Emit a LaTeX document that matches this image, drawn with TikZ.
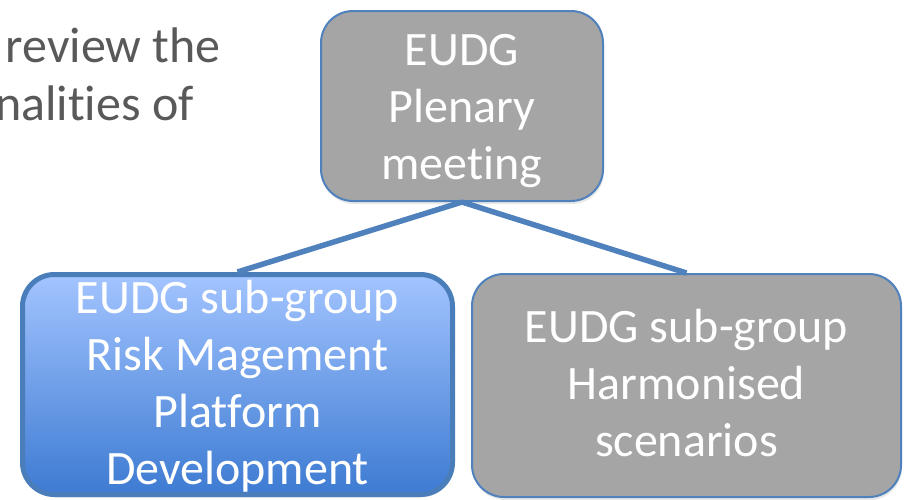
\documentclass[tikz,border=0pt]{standalone}
\usepackage{fontspec}
\setmainfont{Carlito}[Ligatures=NoCommon]
\usetikzlibrary{shadows}
\definecolor{boxgray}{HTML}{A5A5A5}
\definecolor{accent}{HTML}{4F81BD}
\definecolor{accentdark}{HTML}{4A7EBB}
\definecolor{bodytext}{HTML}{595959}
\definecolor{bluetop}{HTML}{A3C4FF}
\definecolor{bluemid}{HTML}{7FA9EE}
\definecolor{bluebot}{HTML}{3D7BD2}
\begin{document}
\begin{tikzpicture}[x=1pt,y=-1pt,
  box/.style={rectangle, rounded corners=32pt, draw=accent, line width=2pt,
    fill=boxgray, inner sep=0pt,
    drop shadow={shadow xshift=1pt, shadow yshift=-3pt, opacity=0.18}},
  bluebox/.style={box, draw=accentdark, line width=5pt,
    top color=bluetop, middle color=bluemid, bottom color=bluebot},
  txt/.style={align=center, text=white, inner sep=0pt,
    font=\fontsize{48}{57}\selectfont},
  bodytxt/.style={text=bodytext, inner sep=0pt,
    font=\fontsize{50}{58}\selectfont},
  conn/.style={draw=accent, line width=5.5pt}
]
\useasboundingbox (0,0) rectangle (905,499);
\fill[white] (0,0) rectangle (905,499);
\begin{scope}
\clip (0,0) rectangle (905,499);
\node[bodytxt, anchor=base east] (t1) at (221,62) {review the};
\node[bodytxt, anchor=base east] (t2) at (194,120) {nalities of};

\node[box, minimum width=282pt, minimum height=190pt] (plen) at (462,106) {};
\node[bluebox, minimum width=430pt, minimum height=220pt] (risk) at (237.5,384.5) {};
\node[box, minimum width=429pt, minimum height=223pt] (harm) at (686.5,385.5) {};

\node[txt] (plentxt) at (462,111) {EUDG\\Plenary\\meeting};
\node[txt] (risktxt) at (237.5,386) {EUDG sub-group\\Risk Magement\\Platform\\Development};
\node[txt] (harmtxt) at (686.5,383) {EUDG sub-group\\Harmonised\\scenarios};

\draw[conn] (plen.south) -- (risk.north);
\draw[conn] (plen.south) -- (harm.north);
\end{scope}
\end{tikzpicture}
\end{document}
